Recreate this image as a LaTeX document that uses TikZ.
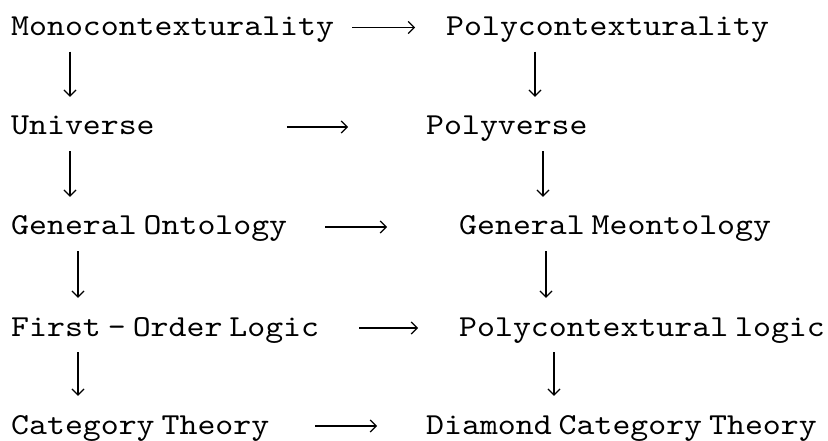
\documentclass[tikz,border=0pt]{standalone}
\usepackage{fontspec}
\usetikzlibrary{arrows.meta,calc}
\newfontfamily\courfont{lmmono10-regular.otf}[WordSpace=0.39, FakeStretch=1.12]

\begin{document}
\begin{tikzpicture}[x=1pt, y=1pt,
  term/.style={anchor=base west, inner sep=0pt, text height=21pt, text depth=5pt, font=\courfont\fontsize{30.5pt}{34pt}\selectfont},
  arr/.style={-{Straight Barb[length=6pt,width=12pt]}, line width=1.2pt},
  darr/.style={arr, shorten <=11pt, shorten >=17pt} ]
\useasboundingbox (0,0) rectangle (828,-441);

\node[term] (mono) at (11,-35.5) {Monocontexturality};
\node[term] (univ) at (11,-135) {Universe};
\node[term] (onto) at (11,-235) {General Ontology};
\node[term] (fol)  at (11,-336) {First - Order Logic};
\node[term] (cat)  at (11,-434) {Category Theory};

\node[term] (poly)   at (446,-35.5) {Polycontexturality};
\node[term] (pverse) at (426,-135) {Polyverse};
\node[term] (meon)   at (459,-235) {General Meontology};
\node[term] (plogic) at (459,-336) {Polycontextural logic};
\node[term] (dcat)   at (426,-434) {Diamond Category Theory};

% horizontal arrows
\draw[arr, shorten <=18pt, shorten >=31pt] (mono.east) -- (poly.west);
\draw[arr, shorten <=132pt, shorten >=78pt] (univ.east) -- (pverse.west);
\draw[arr, shorten <=38pt, shorten >=72pt] (onto.east) -- (meon.west);
\draw[arr, shorten <=40pt, shorten >=41pt] (fol.east) -- (plogic.west);
\draw[arr, shorten <=46pt, shorten >=49pt] (cat.east) -- (dcat.west);

% vertical arrows
\draw[darr] ($(mono.south west)+(59,0)$) -- ($(univ.north west)+(59,0)$);
\draw[darr] ($(univ.south west)+(59,0)$) -- ($(onto.north west)+(59,0)$);
\draw[darr] ($(onto.south west)+(67,0)$) -- ($(fol.north west)+(67,0)$);
\draw[darr] ($(fol.south west)+(67,0)$) -- ($(cat.north west)+(67,0)$);

\draw[darr] ($(poly.south west)+(89,0)$) -- ($(pverse.north west)+(109,0)$);
\draw[darr] ($(pverse.south west)+(117,0)$) -- ($(meon.north west)+(84,0)$);
\draw[darr] ($(meon.south west)+(87,0)$) -- ($(plogic.north west)+(87,0)$);
\draw[darr] ($(plogic.south west)+(95,0)$) -- ($(dcat.north west)+(128,0)$);

\end{tikzpicture}
\end{document}
